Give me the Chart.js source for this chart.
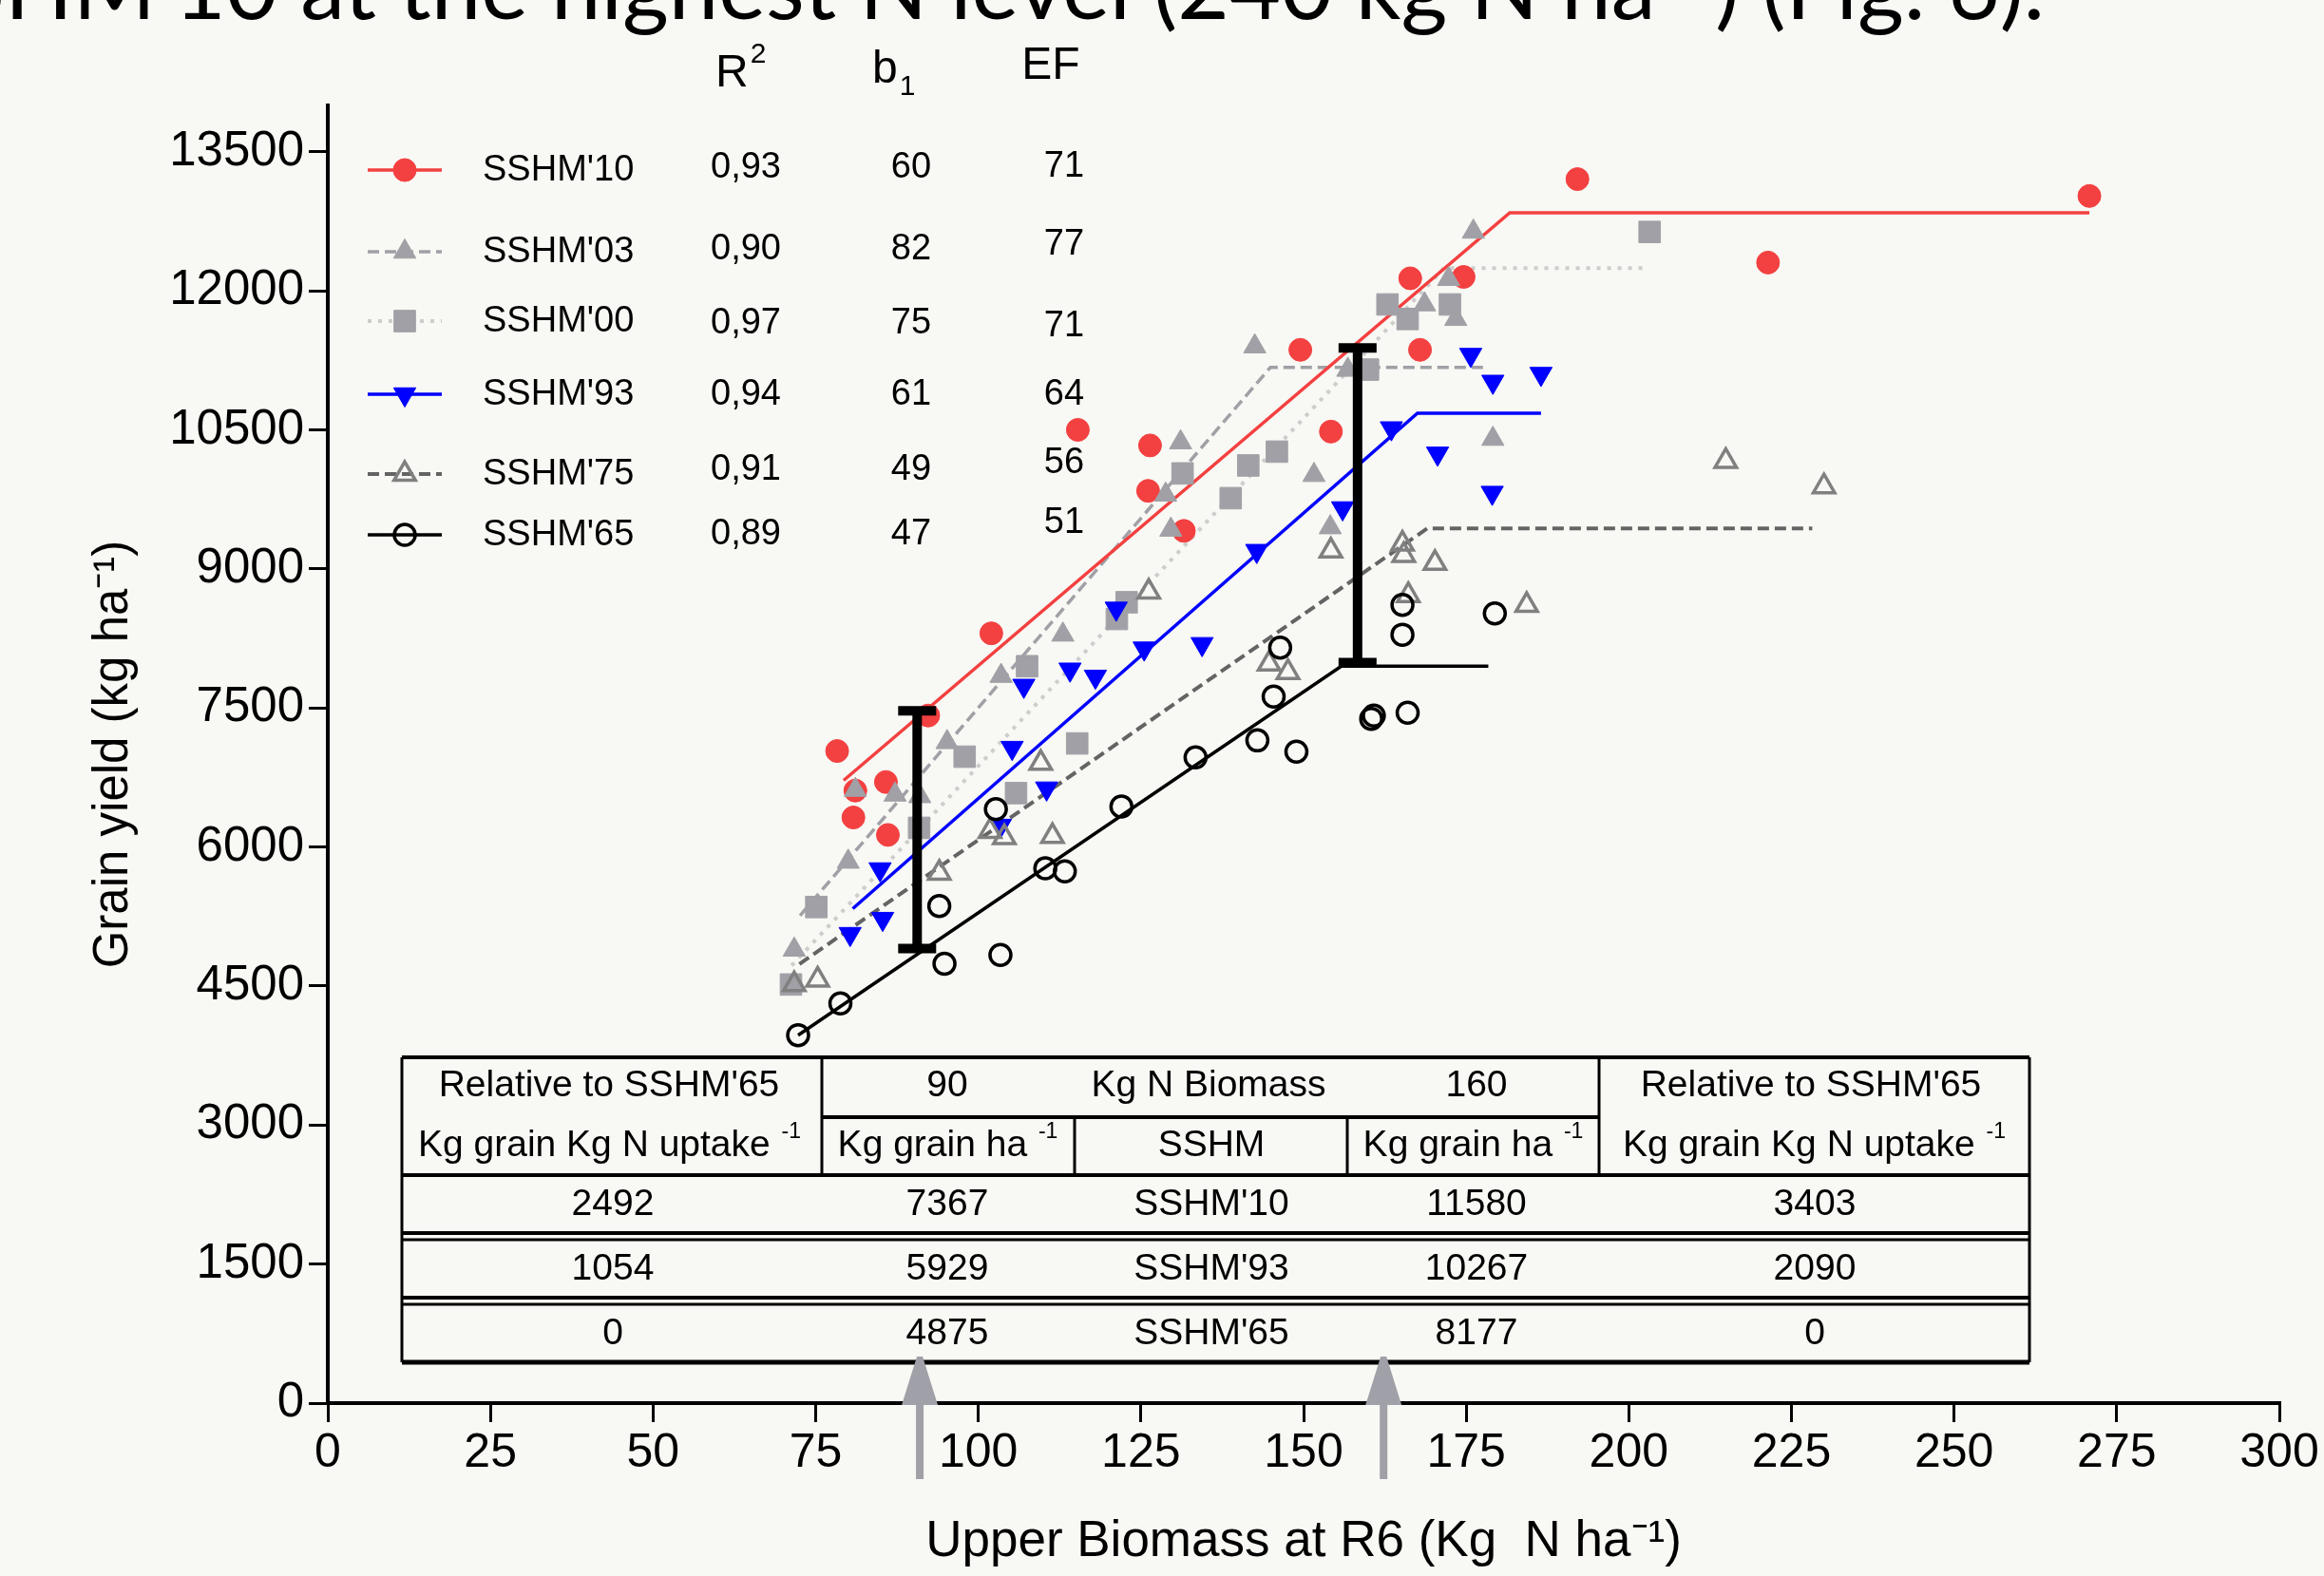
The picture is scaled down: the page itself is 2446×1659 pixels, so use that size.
<!DOCTYPE html>
<html>
<head>
<meta charset="utf-8">
<script src="https://cdn.jsdelivr.net/npm/chart.js@4.4.1/dist/chart.umd.min.js"></script>
<style>
html,body{margin:0;padding:0;background:#f8f8f4;}
canvas{display:block;}
</style>
</head>
<body>
<canvas id="c" width="2446" height="1659"></canvas>
<script>
// ---------- data ----------
const xTicks = [0,25,50,75,100,125,150,175,200,225,250,275,300];
const yTicks = [0,1500,3000,4500,6000,7500,9000,10500,12000,13500];

const seriesNames = ["SSHM'10","SSHM'03","SSHM'00","SSHM'93","SSHM'75","SSHM'65"];
const r2Values = ["0,93","0,90","0,97","0,94","0,91","0,89"];
const b1Values = ["60","82","75","61","49","47"];
const efValues = ["71","77","71","64","56","51"];

const sshm10 = [[78.3,7035],[80.8,6318],[81.1,6608],[85.8,6701],[86.1,6130],[92.3,7418],[102.0,8305],[115.3,10500],[126.1,9842],[126.4,10332],[131.6,9410],[149.5,11363],[154.2,10481],[166.4,12135],[167.9,11363],[174.6,12150],[192.1,13205],[221.4,12305],[270.8,13023]];
const sshm03 = [[71.7,4891],[80.0,5840],[81.1,6615],[87.2,6564],[91.0,6547],[95.2,7130],[103.5,7845],[113.0,8290],[128.8,9800],[129.6,9422],[131.1,10365],[142.5,11400],[151.6,10012],[154.1,9448],[156.8,11147],[168.6,11853],[172.3,12127],[173.4,11696],[176.1,12637],[179.1,10402]];
const sshm00 = [[71.2,4516],[75.1,5352],[90.9,6206],[97.9,6974],[105.8,6581],[107.5,7950],[115.2,7117],[121.3,8460],[122.8,8640],[131.4,10030],[138.8,9763],[141.5,10116],[145.9,10265],[159.9,11150],[162.9,11853],[166.0,11696],[172.5,11853],[203.2,12635]];
const sshm93 = [[80.3,5062],[84.9,5760],[85.3,5225],[103.4,6230],[105.2,7070],[107.0,7740],[110.5,6632],[114.1,7915],[118.0,7838],[121.2,8572],[125.5,8142],[134.4,8190],[142.8,9195],[156.0,9655],[163.5,10518],[170.6,10245],[175.7,11310],[179.0,9822],[179.1,11020],[186.5,11105]];
const sshm75 = [[71.7,4516],[75.3,4567],[94.0,5720],[101.8,6170],[104.0,6103],[109.6,6905],[111.4,6115],[126.2,8752],[144.7,7975],[147.6,7885],[154.2,9195],[165.2,9270],[165.4,9148],[166.1,8715],[170.2,9062],[184.3,8608],[214.9,10162],[230.0,9888]];
const sshm65 = [[72.3,3970],[78.8,4312],[94.8,4740],[103.4,4835],[94.0,5362],[110.3,5770],[113.3,5737],[102.7,6408],[122.0,6436],[133.4,6967],[142.9,7150],[148.9,7028],[145.4,7622],[146.4,8150],[160.4,7383],[160.8,7418],[166.0,7448],[165.2,8290],[165.2,8612],[179.4,8520]];

const fit10 = [[79.3,6718],[181.7,12842],[270.8,12842]];
const fit03 = [[72.6,5260],[144.9,11174],[178.4,11174]];
const fit00 = [[71.3,4720],[171.6,12245],[202.2,12245]];
const fit93 = [[80.7,5335],[167.5,10680],[186.5,10680]];
const fit75 = [[72.5,4737],[169.0,9436],[228.2,9436]];
const fit65 = [[72.3,3969],[155.8,7950],[178.4,7950]];

const bar90 = [[90.6,4905],[90.6,7470]];
const bar160 = [[158.3,7990],[158.3,11385]];
const arrowX = [91.0, 162.3];

const tableHead1 = ["Relative to SSHM'65","90","Kg N Biomass","160","Relative to SSHM'65"];
const tableHead2 = ["Kg grain Kg N uptake","Kg grain ha","SSHM","Kg grain ha","Kg grain Kg N uptake"];
const tableRows = [
  ["2492","7367","SSHM'10","11580","3403"],
  ["1054","5929","SSHM'93","10267","2090"],
  ["0","4875","SSHM'65","8177","0"]
];

// ---------- styles ----------
const FONT = "'Liberation Sans', Arial, Helvetica, sans-serif";
const BG = 'rgb(248,248,244)';
const RED = 'rgb(243,64,64)';
const GRAY = 'rgb(160,160,166)';
const LGRAY = 'rgb(205,205,205)';
const BLUE = 'rgb(0,0,255)';
const DGRAY = 'rgb(100,100,100)';
const OTRI = 'rgb(128,128,128)';
const ARROW = 'rgb(160,160,168)';

const xy = a => a.map(p => ({x: p[0], y: p[1]}));

const pointSets = [
  {data: sshm10, style: 'circle', r: 12, bg: RED, bc: RED, bw: 1, rot: 0, order: 6},
  {data: sshm03, style: 'triangle', r: 13.5, bg: GRAY, bc: GRAY, bw: 1, rot: 0, order: 5},
  {data: sshm00, style: 'rect', r: 16, bg: GRAY, bc: GRAY, bw: 1, rot: 0, order: 4},
  {data: sshm93, style: 'triangle', r: 13.5, bg: BLUE, bc: BLUE, bw: 1, rot: 180, order: 3},
  {data: sshm75, style: 'triangle', r: 13, bg: 'rgba(0,0,0,0)', bc: OTRI, bw: 3.5, rot: 0, order: 2},
  {data: sshm65, style: 'circle', r: 11, bg: 'rgba(0,0,0,0)', bc: '#000', bw: 3.5, rot: 0, order: 1}
];
const lineSets = [
  {data: fit10, color: RED, w: 3.5, dash: []},
  {data: fit03, color: GRAY, w: 3.5, dash: [12, 6]},
  {data: fit00, color: LGRAY, w: 4, dash: [4, 7]},
  {data: fit93, color: BLUE, w: 3.5, dash: []},
  {data: fit75, color: DGRAY, w: 4, dash: [12, 6]},
  {data: fit65, color: '#000', w: 3.5, dash: []}
];

const datasets = [];
[bar90, bar160].forEach((b, i) => {
  datasets.push({
    label: 'bar' + i, data: xy(b), showLine: true, borderColor: '#000', borderWidth: 10,
    pointStyle: 'line', pointRadius: 20, pointBorderWidth: 10, pointBorderColor: '#000',
    pointBackgroundColor: '#000', order: 0, clip: false
  });
});
pointSets.forEach((s, i) => {
  datasets.push({
    label: seriesNames[i], data: xy(s.data), showLine: false,
    pointStyle: s.style, pointRadius: s.r, pointRotation: s.rot,
    pointBackgroundColor: s.bg, pointBorderColor: s.bc, pointBorderWidth: s.bw,
    order: s.order, clip: false
  });
});
lineSets.forEach((s, i) => {
  datasets.push({
    label: seriesNames[i] + ' fit', data: xy(s.data), showLine: true, pointRadius: 0,
    borderColor: s.color, borderWidth: s.w, borderDash: s.dash, fill: false, tension: 0,
    order: 20 + i
  });
});

function drawMarker(ctx, style, x, y, r, bg, bc, bw, rot) {
  ctx.save();
  ctx.translate(x, y);
  ctx.rotate(rot * Math.PI / 180);
  ctx.beginPath();
  if (style === 'circle') {
    ctx.arc(0, 0, r, 0, Math.PI * 2);
  } else if (style === 'rect') {
    const s = r * Math.SQRT1_2;
    ctx.rect(-s, -s, 2 * s, 2 * s);
  } else {
    let a = 0;
    ctx.moveTo(Math.sin(a) * r, -Math.cos(a) * r);
    a += 2 * Math.PI / 3;
    ctx.lineTo(Math.sin(a) * r, -Math.cos(a) * r);
    a += 2 * Math.PI / 3;
    ctx.lineTo(Math.sin(a) * r, -Math.cos(a) * r);
    ctx.closePath();
  }
  ctx.fillStyle = bg;
  ctx.fill();
  ctx.lineWidth = bw;
  ctx.strokeStyle = bc;
  ctx.stroke();
  ctx.restore();
}

function textSup(ctx, main, sup, cx, cy, size) {
  ctx.textAlign = 'left';
  ctx.textBaseline = 'middle';
  ctx.font = size + 'px ' + FONT;
  const w1 = ctx.measureText(main).width;
  const ss = Math.round(size * 0.6);
  ctx.font = ss + 'px ' + FONT;
  const w2 = ctx.measureText(sup).width;
  const x0 = cx - (w1 + w2) / 2;
  ctx.font = size + 'px ' + FONT;
  ctx.fillText(main, x0, cy);
  ctx.font = ss + 'px ' + FONT;
  ctx.fillText(sup, x0 + w1 + 1, cy - size * 0.36);
}

const bgPlugin = {
  id: 'bg',
  beforeDraw(chart) {
    const ctx = chart.ctx;
    ctx.save();
    ctx.fillStyle = BG;
    ctx.fillRect(0, 0, chart.width, chart.height);
    ctx.restore();
  }
};

const decorPlugin = {
  id: 'decor',
  afterDraw(chart) {
    const ctx = chart.ctx;
    ctx.save();
    ctx.fillStyle = '#000';

    // clipped slide text at top
    ctx.font = "94px Lato, 'Open Sans', sans-serif";
    ctx.textAlign = 'right';
    ctx.textBaseline = 'alphabetic';
    ctx.fillText("SSHM'10 at the highest N level (240 kg N ha\u207B\u00B9) (Fig. 6).", 2152, 20);

    // legend header
    ctx.textBaseline = 'middle';
    ctx.textAlign = 'left';
    ctx.font = '48px ' + FONT;
    ctx.fillText('R', 753, 78);
    let wR = ctx.measureText('R').width;
    ctx.font = '30px ' + FONT;
    ctx.fillText('2', 753 + wR + 2, 58);
    ctx.font = '48px ' + FONT;
    ctx.fillText('b', 918, 74);
    let wb = ctx.measureText('b').width;
    ctx.font = '30px ' + FONT;
    ctx.fillText('1', 918 + wb + 2, 92);
    ctx.font = '48px ' + FONT;
    ctx.textAlign = 'center';
    ctx.fillText('EF', 1106, 70);

    // legend rows
    const rowY = [179, 265, 338, 415, 499, 563];
    const r2Y = [177, 263, 341, 416, 495, 563];
    const efY = [176, 258, 344, 416, 488, 551];
    for (let i = 0; i < 6; i++) {
      const ls = lineSets[i], ps = pointSets[i];
      ctx.save();
      ctx.strokeStyle = ls.color;
      ctx.lineWidth = ls.w;
      ctx.setLineDash(ls.dash);
      ctx.beginPath();
      ctx.moveTo(387, rowY[i]);
      ctx.lineTo(465, rowY[i]);
      ctx.stroke();
      ctx.restore();
      drawMarker(ctx, ps.style, 426, rowY[i], ps.r, ps.bg, ps.bc, ps.bw, ps.rot);
      ctx.fillStyle = '#000';
      ctx.font = '38px ' + FONT;
      ctx.textAlign = 'left';
      ctx.fillText(seriesNames[i], 508, rowY[i] + 1);
      ctx.textAlign = 'center';
      ctx.fillText(r2Values[i], 785, r2Y[i]);
      ctx.fillText(b1Values[i], 959, r2Y[i]);
      ctx.fillText(efValues[i], 1120, efY[i]);
    }

    // table
    const L = 423, R = 2136, T = 1113, B = 1434;
    ctx.strokeStyle = '#000';
    const hl = (x1, x2, y, w) => { ctx.lineWidth = w; ctx.beginPath(); ctx.moveTo(x1, y); ctx.lineTo(x2, y); ctx.stroke(); };
    const vl = (x, y1, y2, w) => { ctx.lineWidth = w; ctx.beginPath(); ctx.moveTo(x, y1); ctx.lineTo(x, y2); ctx.stroke(); };
    hl(L, R, T, 4);
    hl(865, 1683, 1176, 4);
    hl(L, R, 1237, 4);
    hl(L, R, 1298, 4);
    hl(L, R, 1305, 3);
    hl(L, R, 1366, 4);
    hl(L, R, 1373, 3);
    hl(L, R, B, 5);
    vl(L, T, B, 3);
    vl(R, T, B, 3);
    vl(865, T, 1237, 3);
    vl(1683, T, 1237, 3);
    vl(1131, 1176, 1237, 3);
    vl(1418, 1176, 1237, 3);

    ctx.fillStyle = '#000';
    ctx.textAlign = 'center';
    ctx.textBaseline = 'middle';
    ctx.font = '39px ' + FONT;
    const h1x = [641, 997, 1272, 1554, 1906];
    tableHead1.forEach((t, i) => ctx.fillText(t, h1x[i], 1143));
    const h2x = [641, 997, 1275, 1550, 1909];
    tableHead2.forEach((t, i) => {
      if (i === 2) { ctx.font = '39px ' + FONT; ctx.textAlign = 'center'; ctx.fillText(t, h2x[i], 1206); }
      else textSup(ctx, t + ' ', '-1', h2x[i], 1206, 39);
    });
    ctx.textAlign = 'center';
    ctx.font = '39px ' + FONT;
    const dx = [645, 997, 1275, 1554, 1910];
    const dy = [1268, 1336, 1404];
    tableRows.forEach((row, r) => row.forEach((t, c) => ctx.fillText(t, dx[c], dy[r])));

    // arrows
    const xs = chart.scales.x;
    ctx.fillStyle = ARROW;
    arrowX.forEach(v => {
      const px = xs.getPixelForValue(v);
      ctx.fillRect(px - 4, 1470, 8, 87);
      ctx.beginPath();
      ctx.moveTo(px - 3, 1428);
      ctx.lineTo(px + 3, 1428);
      ctx.lineTo(px + 19, 1479);
      ctx.lineTo(px - 19, 1479);
      ctx.closePath();
      ctx.fill();
    });
    ctx.restore();
  }
};

new Chart(document.getElementById('c'), {
  type: 'scatter',
  data: {datasets},
  options: {
    responsive: false,
    animation: false,
    devicePixelRatio: 1,
    layout: {padding: {left: 0, right: 47, top: 111, bottom: 0}},
    plugins: {legend: {display: false}, tooltip: {enabled: false}, title: {display: false}},
    scales: {
      x: {
        type: 'linear', min: 0, max: 300,
        afterBuildTicks: s => { s.ticks = xTicks.map(v => ({value: v})); },
        afterFit: s => { s.height = 182; },
        ticks: {font: {family: FONT, size: 50}, color: '#000', padding: 3, maxRotation: 0, autoSkip: false, callback: v => String(v)},
        grid: {display: true, drawOnChartArea: false, drawTicks: true, tickLength: 20, color: '#000', lineWidth: 3},
        border: {display: true, color: '#000', width: 4},
        title: {display: true, text: 'Upper Biomass at R6 (Kg  N ha\u207B\u00B9)', font: {family: FONT, size: 53}, color: '#000', padding: {top: 0, bottom: 4}}
      },
      y: {
        type: 'linear', min: 0, max: 14000,
        afterBuildTicks: s => { s.ticks = yTicks.map(v => ({value: v})); },
        afterFit: s => { s.width = 345; },
        ticks: {font: {family: FONT, size: 51}, color: '#000', padding: 5, autoSkip: false, callback: v => String(v)},
        grid: {display: true, drawOnChartArea: false, drawTicks: true, tickLength: 20, color: '#000', lineWidth: 3},
        border: {display: true, color: '#000', width: 4},
        title: {display: true, text: 'Grain yield (kg ha\u207B\u00B9)', font: {family: FONT, size: 51}, color: '#000', padding: {top: 89, bottom: 0}}
      }
    }
  },
  plugins: [bgPlugin, decorPlugin]
});
</script>
</body>
</html>
